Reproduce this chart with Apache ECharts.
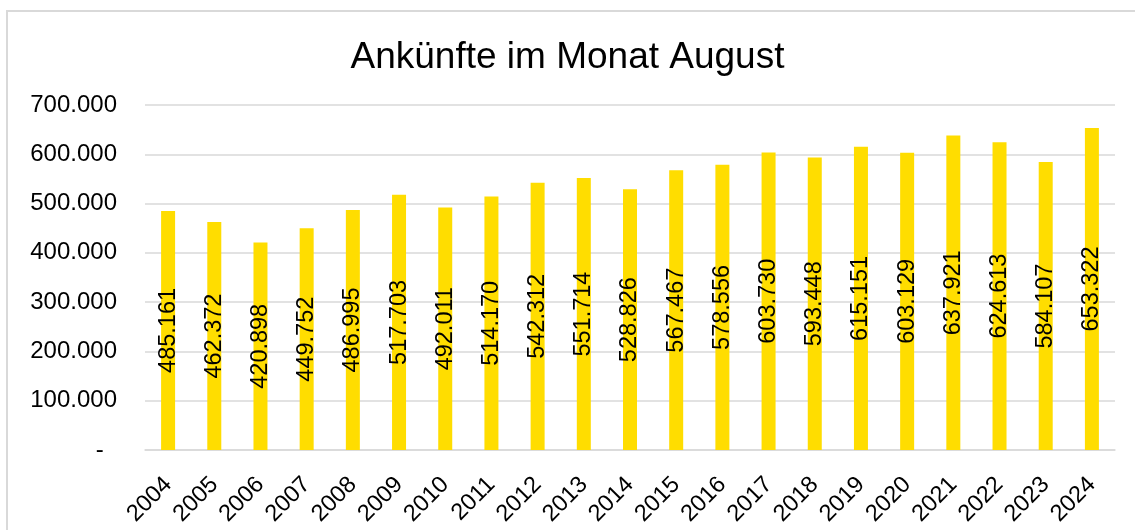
<!DOCTYPE html>
<html>
<head>
<meta charset="utf-8">
<script src="https://cdn.jsdelivr.net/npm/echarts@6/dist/echarts.min.js"></script>
<style>
    html, body { margin: 0; padding: 0; background: #fff; overflow: hidden; }
    #frame {
        position: absolute; left: 6px; top: 10px;
        width: 1300px; height: 700px;
        border: 2px solid #d9d9d9;
    }
    #main { position: absolute; left: 0; top: 0; width: 1135px; height: 530px; }
</style>
</head>
<body>
<div id="frame"></div>
<div id="main"></div>
<script>
// Ankünfte im Monat August, 2004-2024
const years = ['2004', '2005', '2006', '2007', '2008', '2009', '2010', '2011', '2012', '2013', '2014',
    '2015', '2016', '2017', '2018', '2019', '2020', '2021', '2022', '2023', '2024']
const arrivals = [485161, 462372, 420898, 449752, 486995, 517703, 492011, 514170, 542312, 551714, 528826,
    567467, 578556, 603730, 593448, 615151, 603129, 637921, 624613, 584107, 653322]

// deutsches Tausendertrennzeichen, 0 als "-" (wie Excel-Buchhaltungsformat etwas eingerückt)
function fmt(v) {
    if (v === 0) return '-  '
    return String(v).replace(/\B(?=(\d{3})+(?!\d))/g, '.')
}

const font = 'Liberation Sans'
let myChart = echarts.init(document.getElementById('main'))
let option = {
    animation: false,
    title: {
        text: 'Ankünfte im Monat August',
        left: 'center',
        top: 34,
        textStyle: { fontFamily: font, fontSize: 37, fontWeight: 'normal', color: '#000' }
    },
    grid: { left: 145, right: 20, top: 105, bottom: 80 },
    xAxis: {
        type: 'category',
        data: years,
        axisLine: { lineStyle: { color: '#d9d9d9', width: 1.5 } },
        axisTick: { show: false },
        axisLabel: {
            rotate: 45, margin: 31, interval: 0,
            fontFamily: font, fontSize: 23.5, color: '#000'
        }
    },
    yAxis: {
        type: 'value',
        min: 0, max: 700000, interval: 100000,
        axisLine: { show: false },
        axisTick: { show: false },
        splitLine: { lineStyle: { color: '#d9d9d9', width: 1.5 } },
        axisLabel: {
            margin: 28, fontFamily: font, fontSize: 24, color: '#000',
            formatter: v => fmt(v)
        }
    },
    series: [{
        type: 'bar',
        data: arrivals,
        barWidth: 14,
        itemStyle: { color: '#FFDD00' },
        label: {
            show: true,
            position: 'inside',
            rotate: 90,
            fontFamily: font, fontSize: 23.5, color: '#000',
            formatter: p => fmt(p.value)
        }
    }]
}
myChart.setOption(option)
</script>
</body>
</html>
